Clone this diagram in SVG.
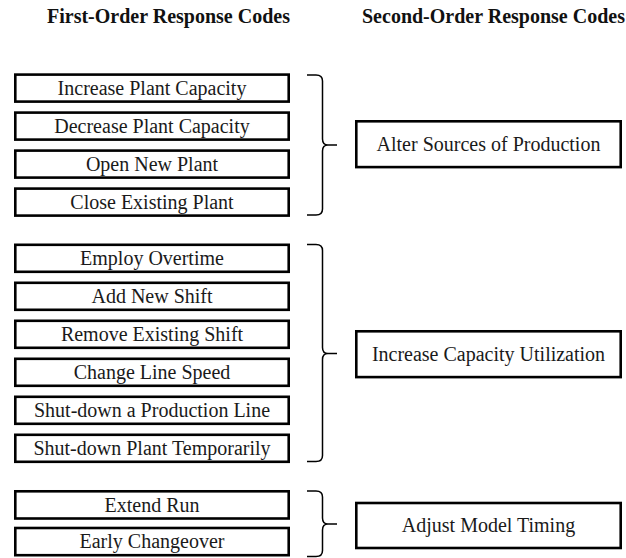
<svg xmlns="http://www.w3.org/2000/svg" width="626" height="558" viewBox="0 0 626 558">
<style>
.hdr{font-family:"Liberation Serif","Times New Roman",serif;font-weight:bold;font-size:20px;fill:#111}
.lbl{font-family:"Liberation Serif","Times New Roman",serif;font-size:20px;fill:#1a1a1a;text-anchor:middle}
.box{fill:#fff;stroke:#000;stroke-width:2.6}
.brace{fill:none;stroke:#000;stroke-width:1.5}
</style>
<rect width="626" height="558" fill="#fff"/>
<text class="hdr" x="47" y="22.5">First-Order Response Codes</text>
<text class="hdr" x="362" y="22.5">Second-Order Response Codes</text>

<g id="n-increase-plant"><rect class="box" x="15.3" y="74.6" width="273.4" height="27"/><text class="lbl" x="152" y="94.5">Increase Plant Capacity</text></g>
<g id="n-decrease-plant"><rect class="box" x="15.3" y="112.6" width="273.4" height="27"/><text class="lbl" x="152" y="132.5">Decrease Plant Capacity</text></g>
<g id="n-open-plant"><rect class="box" x="15.3" y="150.6" width="273.4" height="27"/><text class="lbl" x="152" y="170.5">Open New Plant</text></g>
<g id="n-close-plant"><rect class="box" x="15.3" y="188.6" width="273.4" height="27"/><text class="lbl" x="152" y="208.5">Close Existing Plant</text></g>

<g id="n-overtime"><rect class="box" x="15.3" y="244.8" width="273.4" height="27"/><text class="lbl" x="152" y="264.7">Employ Overtime</text></g>
<g id="n-add-shift"><rect class="box" x="15.3" y="282.8" width="273.4" height="27"/><text class="lbl" x="152" y="302.7">Add New Shift</text></g>
<g id="n-remove-shift"><rect class="box" x="15.3" y="320.8" width="273.4" height="27"/><text class="lbl" x="152" y="340.7">Remove Existing Shift</text></g>
<g id="n-line-speed"><rect class="box" x="15.3" y="358.8" width="273.4" height="27"/><text class="lbl" x="152" y="378.7">Change Line Speed</text></g>
<g id="n-shut-line"><rect class="box" x="15.3" y="396.8" width="273.4" height="27"/><text class="lbl" x="152" y="416.7">Shut-down a Production Line</text></g>
<g id="n-shut-plant"><rect class="box" x="15.3" y="434.8" width="273.4" height="27"/><text class="lbl" x="152" y="454.7">Shut-down Plant Temporarily</text></g>

<g id="n-extend-run"><rect class="box" x="15.3" y="491.3" width="273.4" height="27.2"/><text class="lbl" x="152" y="511.5">Extend Run</text></g>
<g id="n-early-change"><rect class="box" x="15.3" y="528" width="273.4" height="27.2"/><text class="lbl" x="152" y="548.2">Early Changeover</text></g>

<g id="n-alter-sources"><rect class="box" x="356.3" y="121.3" width="264.4" height="45.8"/><text class="lbl" x="488.5" y="150.7">Alter Sources of Production</text></g>
<g id="n-capacity-util"><rect class="box" x="356.3" y="331.3" width="264.4" height="45.8"/><text class="lbl" x="488.5" y="360.7">Increase Capacity Utilization</text></g>
<g id="n-model-timing"><rect class="box" x="356.3" y="503" width="264.4" height="45"/><text class="lbl" x="488.5" y="532">Adjust Model Timing</text></g>

<g id="connectors">
<path class="brace" d="M307,75 H316 Q322.5,75 322.5,81 V139 Q322.5,145 328,145 H337 M328,145 Q322.5,145 322.5,151 V209 Q322.5,215 316,215 H307"/>
<path class="brace" d="M307,244.5 H316 Q322.5,244.5 322.5,250.5 V347.5 Q322.5,353.5 328,353.5 H337 M328,353.5 Q322.5,353.5 322.5,359.5 V455.5 Q322.5,461.5 316,461.5 H307"/>
<path class="brace" d="M307,491 H316 Q322.5,491 322.5,497 V518 Q322.5,524 328,524 H337 M328,524 Q322.5,524 322.5,530 V550.5 Q322.5,556.5 316,556.5 H307"/>
</g>
</svg>
